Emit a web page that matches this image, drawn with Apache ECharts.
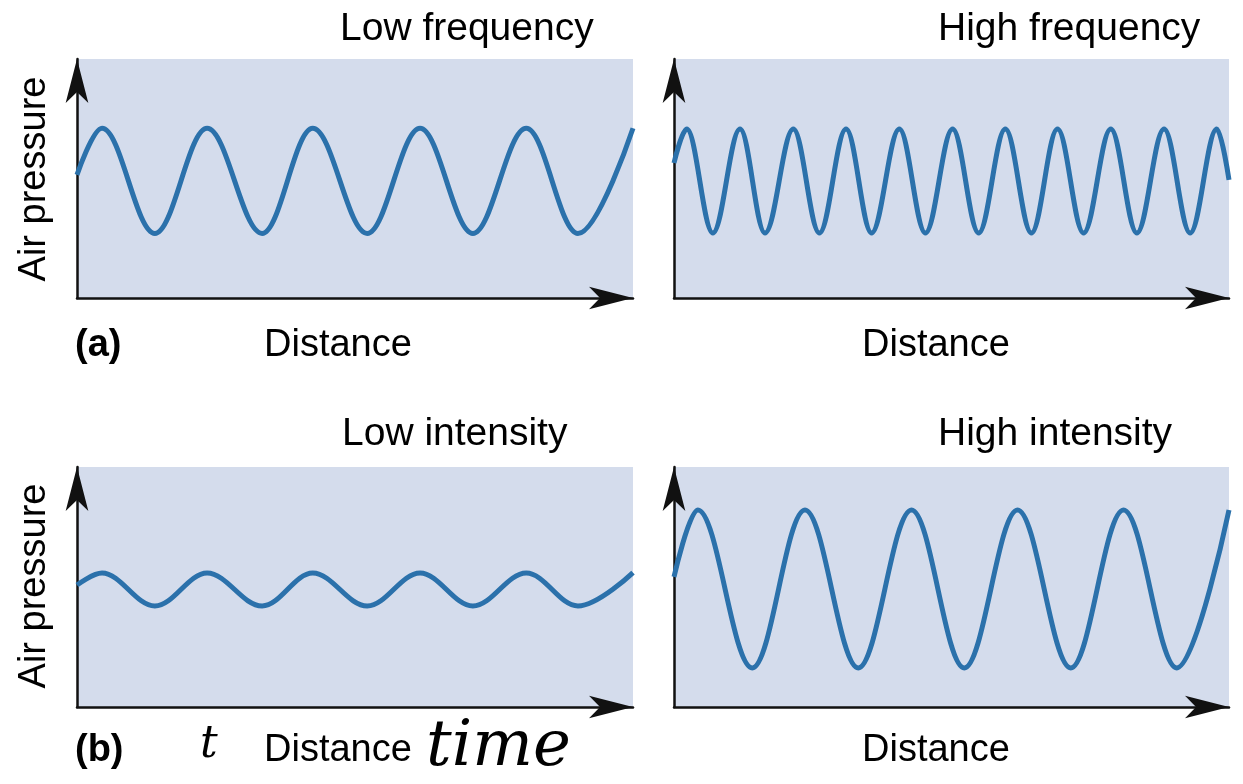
<!DOCTYPE html>
<html>
<head>
<meta charset="utf-8">
<script src="https://cdn.jsdelivr.net/npm/echarts@6/dist/echarts.min.js"></script>
<style>
html,body{margin:0;padding:0;background:#fff;}
#chart{width:1243px;height:784px;}
</style>
</head>
<body>
<div id="chart"></div>
<script>
// peaks / troughs, distance 0..100, pressure 0..100
var lowFreqX = [0, 4.5, 14.0, 23.4, 33.3, 42.4, 52.2, 61.7, 71.2, 80.8, 90.1, 100];
var lowFreqY = [51.5, 71, 27, 71, 27, 71, 27, 71, 27, 71, 27, 71];

var highFreqX = [0, 2.3, 7.0, 11.9, 16.4, 21.5, 26.2, 31.0, 35.6, 40.6, 45.3, 50.2,
                 54.9, 59.7, 64.4, 69.1, 73.8, 78.7, 83.4, 88.3, 93.0, 97.8, 100];
var highFreqY = [56.5, 70.7, 27.2, 70.7, 27.2, 70.7, 27.2, 70.7, 27.2, 70.7, 27.2, 70.7,
                 27.2, 70.7, 27.2, 70.7, 27.2, 70.7, 27.2, 70.7, 27.2, 70.7, 49.4];

var lowIntX = [0, 4.5, 14.0, 23.4, 33.3, 42.4, 52.2, 61.7, 71.2, 80.8, 90.1, 100];
var lowIntY = [50.8, 55.8, 42.1, 55.8, 42.1, 55.8, 42.1, 55.8, 42.1, 55.8, 42.1, 56];

var highIntX = [0, 4.3, 14.1, 23.6, 33.2, 42.8, 52.3, 61.9, 71.5, 81.0, 90.6, 100];
var highIntY = [54.2, 82.1, 16.3, 82.1, 16.3, 82.1, 16.3, 82.1, 16.3, 82.1, 16.3, 82.1];

var panelTitles = ['Low frequency', 'High frequency', 'Low intensity', 'High intensity'];
var xName = 'Distance';
var yName = 'Air pressure';

function pairs(xs, ys){
	var out = [];
	for (var i = 0; i < xs.length; i++) {
		out.push([xs[i], ys[i]]);
	}
	return out;
}

var font = '"Liberation Sans", Arial, Helvetica, sans-serif';
var waveColor = '#2b71ab';
var panelBg = '#d4dcec';

var grids = [
	{left: 77, top: 59, width: 556, height: 239},
	{left: 674, top: 59, width: 555, height: 239},
	{left: 77, top: 467, width: 556, height: 240},
	{left: 674, top: 467, width: 555, height: 240}
];

var xAxes = [], yAxes = [], series = [];
var waves = [pairs(lowFreqX, lowFreqY), pairs(highFreqX, highFreqY),
             pairs(lowIntX, lowIntY), pairs(highIntX, highIntY)];

for (var i = 0; i < 4; i++) {
	grids[i].show = true;
	grids[i].backgroundColor = panelBg;
	grids[i].borderWidth = 0;
	grids[i].containLabel = false;
	xAxes.push({
		type: 'value', gridIndex: i, min: 0, max: 100,
		axisLine: {
			show: true, onZero: false,
			lineStyle: {color: '#111', width: 2.5},
			symbol: ['none', 'arrow'], symbolSize: [17, 44], symbolOffset: [0, 0]
		},
		axisTick: {show: false}, axisLabel: {show: false}, splitLine: {show: false}
	});
	yAxes.push({
		type: 'value', gridIndex: i, min: 0, max: 100,
		axisLine: {
			show: true, onZero: false,
			lineStyle: {color: '#111', width: 2.5},
			symbol: ['none', 'arrow'], symbolSize: [17, 44], symbolOffset: [0, 0]
		},
		axisTick: {show: false}, axisLabel: {show: false}, splitLine: {show: false}
	});
	series.push({
		type: 'line', xAxisIndex: i, yAxisIndex: i,
		data: waves[i],
		smooth: 0.36, smoothMonotone: 'x',
		symbol: 'none',
		lineStyle: {color: waveColor, width: 5},
		silent: true, animation: false
	});
}

function label(text, x, y, opts){
	opts = opts || {};
	return {
		type: 'text', x: x, y: y, rotation: opts.rotation || 0,
		style: {
			text: text,
			font: (opts.style || 'normal') + ' ' + (opts.weight || 'normal') + ' ' + (opts.size || 38) + 'px ' + (opts.family || font),
			fill: '#000',
			textAlign: opts.align || 'left',
			textVerticalAlign: 'middle'
		}
	};
}

var graphics = [
	label(panelTitles[0], 340, 29, {size: 39}),
	label(panelTitles[1], 938, 29, {size: 39}),
	label(panelTitles[2], 342, 434, {size: 39}),
	label(panelTitles[3], 938, 434, {size: 39}),
	label(xName, 264, 346),
	label(xName, 862, 346),
	label(xName, 264, 751),
	label(xName, 862, 751),
	label(yName, 35, 179, {rotation: Math.PI / 2, align: 'center'}),
	label(yName, 35, 586, {rotation: Math.PI / 2, align: 'center'}),
	label('(a)', 75, 346, {weight: 'bold'}),
	label('(b)', 75, 751, {weight: 'bold'}),
	// handwritten notes
	label('t', 200, 746, {style: 'italic', size: 44, family: '"DejaVu Serif", serif'}),
	label('time', 426, 748, {style: 'italic', size: 64, family: '"DejaVu Serif", serif'})
];

var option = {
	animation: false,
	grid: grids,
	xAxis: xAxes,
	yAxis: yAxes,
	series: series,
	graphic: graphics
};

var mychart = echarts.init(document.getElementById('chart'), null, {renderer: 'canvas'});
mychart.setOption(option);
</script>
</body>
</html>
